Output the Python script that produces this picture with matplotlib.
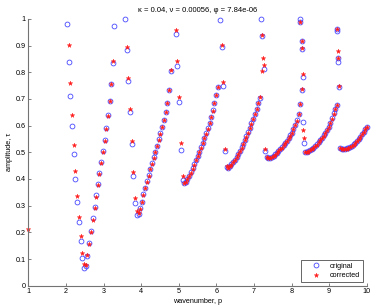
import numpy as np
import matplotlib
matplotlib.use('Agg')
import matplotlib.pyplot as plt

nan = np.nan

# wavenumber p, one entry per plotted sample (original and corrected share it)
wavenumber = [
    1.00,
    2.02, 2.07, 2.12, 2.16, 2.21, 2.25, 2.30, 2.35, 2.39, 2.44, 2.48, 2.53,
    2.57, 2.62, 2.66, 2.71, 2.76, 2.80, 2.85, 2.89, 2.94, 2.98,
    3.03, 3.07, 3.11, 3.16, 3.20, 3.25, 3.29,
    3.57, 3.62, 3.66, 3.71, 3.75, 3.79, 3.84, 3.89, 3.93,
    3.97, 4.02, 4.06, 4.11, 4.15, 4.20, 4.24, 4.29, 4.33, 4.38,
    4.42, 4.47, 4.51, 4.56, 4.60, 4.65, 4.69, 4.74, 4.79,
    4.92, 4.96, 5.01, 5.05, 5.10, 5.14,
    5.19, 5.23, 5.28, 5.32, 5.37, 5.41, 5.46, 5.50, 5.55, 5.59,
    5.64, 5.68, 5.73, 5.77, 5.82, 5.86, 5.91, 5.95, 6.00, 6.04,
    6.10, 6.14, 6.19, 6.23,
    6.28, 6.32, 6.36, 6.40, 6.45, 6.49, 6.54, 6.58, 6.63, 6.67,
    6.71, 6.76, 6.80, 6.84, 6.89, 6.93, 6.98, 7.02, 7.07, 7.11, 7.16,
    7.19, 7.22, 7.23, 7.27, 7.22, 7.30,
    7.34, 7.38, 7.43, 7.47, 7.52, 7.56, 7.61, 7.65, 7.70, 7.74,
    7.79, 7.83, 7.88, 7.92, 7.97, 8.01, 8.05, 8.10, 8.14, 8.19, 8.23, 8.27,
    8.23, 8.23, 8.27, 8.27, 8.31, 8.31, 8.32,
    8.36, 8.40, 8.45, 8.49, 8.54, 8.58, 8.63, 8.67, 8.72, 8.76,
    8.81, 8.85, 8.90, 8.94, 8.99, 9.03, 9.08, 9.12, 9.16, 9.20,
    9.20, 9.21, 9.24, 9.24, 9.24, 9.25,
    9.29, 9.33, 9.38, 9.42, 9.47, 9.51, 9.56, 9.60, 9.65, 9.69,
    9.74, 9.78, 9.83, 9.87, 9.92, 9.96, 10.00,
]

tau_original = [
    nan,
    0.980, 0.839, 0.712, 0.598, 0.494, 0.400, 0.314, 0.237, 0.166, 0.105, 0.066, 0.074,
    0.113, 0.160, 0.206, 0.252, 0.296, 0.339, 0.380, 0.424, 0.464, 0.505,
    0.547, 0.590, 0.638, 0.694, 0.755, 0.834, 0.974,
    1.000, 0.883, 0.767, 0.651, 0.531, 0.412, 0.309, 0.265, 0.268,
    0.290, 0.315, 0.342, 0.368, 0.391, 0.415, 0.437, 0.459, 0.481, 0.503,
    0.525, 0.548, 0.571, 0.594, 0.620, 0.650, 0.685, 0.733, 0.805,
    0.943, 0.823, 0.688, 0.509, 0.398, 0.384,
    0.390, 0.400, 0.412, 0.425, 0.440, 0.455, 0.471, 0.487, 0.503, 0.519,
    0.536, 0.553, 0.571, 0.590, 0.610, 0.632, 0.657, 0.685, 0.715, 0.743,
    0.996, 0.894, 0.750, 0.505,
    0.446, 0.443, 0.449, 0.455, 0.463, 0.472, 0.483, 0.494, 0.506, 0.519,
    0.532, 0.546, 0.560, 0.575, 0.591, 0.608, 0.626, 0.645, 0.664, 0.683, 0.705,
    0.999, 0.937, nan, 0.812, nan, 0.504,
    0.484, 0.477, 0.478, 0.482, 0.487, 0.492, 0.498, 0.505, 0.512, 0.519,
    0.527, 0.535, 0.544, 0.553, 0.563, 0.574, 0.587, 0.602, 0.620, 0.645, 0.680, 0.735,
    1.000, 0.990, 0.917, 0.888, 0.783, 0.613, 0.536,
    0.503, 0.502, 0.504, 0.508, 0.513, 0.518, 0.524, 0.530, 0.538, 0.546,
    0.554, 0.563, 0.573, 0.584, 0.596, 0.609, 0.627, 0.646, 0.662, 0.678,
    0.963, 0.953, nan, 0.853, 0.840, 0.746,
    0.518, 0.513, 0.511, 0.512, 0.515, 0.518, 0.521, 0.525, 0.530, 0.536,
    0.543, 0.550, 0.559, 0.568, 0.577, 0.587, 0.596,
]

tau_corrected = [
    0.212,
    nan, 0.903, 0.761, 0.638, 0.527, 0.429, 0.337, 0.257, 0.186, 0.121, 0.080, 0.078,
    0.114, 0.157, 0.203, 0.247, 0.291, 0.334, 0.376, 0.419, 0.460, 0.501,
    0.544, 0.588, 0.636, 0.691, 0.756, 0.844, nan,
    nan, 0.893, 0.777, 0.662, 0.544, 0.425, 0.327, 0.280, 0.274,
    0.289, 0.313, 0.340, 0.366, 0.389, 0.413, 0.436, 0.458, 0.480, 0.502,
    0.524, 0.547, 0.570, 0.593, 0.620, 0.650, 0.686, 0.735, 0.808,
    0.958, 0.841, 0.706, 0.536, 0.411, 0.386,
    0.390, 0.400, 0.411, 0.424, 0.439, 0.454, 0.470, 0.486, 0.502, 0.518,
    0.535, 0.552, 0.570, 0.589, 0.609, 0.631, 0.656, 0.685, 0.716, 0.745,
    nan, 0.901, 0.762, 0.511,
    0.447, 0.443, 0.448, 0.454, 0.462, 0.471, 0.482, 0.493, 0.505, 0.518,
    0.531, 0.545, 0.559, 0.574, 0.590, 0.607, 0.625, 0.644, 0.663, 0.683, 0.707,
    nan, 0.941, 0.853, 0.828, 0.803, 0.511,
    0.484, 0.477, 0.477, 0.481, 0.486, 0.491, 0.497, 0.504, 0.511, 0.518,
    0.526, 0.534, 0.543, 0.552, 0.562, 0.573, 0.586, 0.601, 0.619, 0.645, 0.681, 0.737,
    nan, 0.990, 0.918, 0.890, 0.793, 0.584, 0.553,
    0.503, 0.501, 0.503, 0.507, 0.512, 0.517, 0.523, 0.529, 0.537, 0.545,
    0.553, 0.562, 0.572, 0.583, 0.595, 0.608, 0.626, 0.645, 0.661, 0.679,
    0.963, nan, 0.879, 0.855, nan, 0.748,
    0.518, 0.513, 0.511, 0.512, 0.514, 0.517, 0.520, 0.524, 0.529, 0.535,
    0.542, 0.549, 0.558, 0.567, 0.576, 0.586, 0.595,
]

x_ticks = [1, 2, 3, 4, 5, 6, 7, 8, 9, 10]
y_ticks = [0, 0.1, 0.2, 0.3, 0.4, 0.5, 0.6, 0.7, 0.8, 0.9, 1]
y_ticklabels = ['0', '0.1', '0.2', '0.3', '0.4', '0.5', '0.6', '0.7', '0.8', '0.9', '1']

plt.rcParams['font.family'] = ['Liberation Sans', 'DejaVu Sans']
fs = 5.2

fig = plt.figure(figsize=(3.74, 3.07), dpi=100)
ax = fig.add_axes([0.0757, 0.0694, 0.905, 0.869])

ax.plot(wavenumber, tau_original, 'o', linestyle='none', color='#3a3aff',
        markerfacecolor='none', markersize=3.5, markeredgewidth=0.55,
        label='original', clip_on=False)
ax.plot(wavenumber, tau_corrected, '*', linestyle='none', color='#ff1a1a',
        markersize=3.4, markeredgewidth=0.3,
        label='corrected', clip_on=False)

ax.set_xlim(1, 10)
ax.set_ylim(0, 1)
ax.set_xticks(x_ticks)
ax.set_xticklabels([str(t) for t in x_ticks])
ax.set_yticks(y_ticks)
ax.set_yticklabels(y_ticklabels)
ax.tick_params(direction='in', length=2.5, width=0.5, labelsize=fs, pad=2,
               colors='0.3', labelcolor='black')

for side in ['top', 'right']:
    ax.spines[side].set_visible(False)
for side in ['left', 'bottom']:
    ax.spines[side].set_color('0.45')
    ax.spines[side].set_linewidth(0.8)

ax.set_xlabel('wavenumber, p', fontsize=fs, labelpad=2)
ax.set_ylabel('amplitude, \u03c4', fontsize=fs, labelpad=2)
ax.set_title('\u03ba = 0.04, \u03bd = 0.00056, \u03c6 = 7.84e-06', fontsize=5.5, pad=5)

leg = ax.legend(loc='lower right', fontsize=fs, fancybox=False, framealpha=1,
                edgecolor='0.3', borderaxespad=0.5, labelspacing=0.3,
                handlelength=3.2, handletextpad=0.4, borderpad=0.4)
leg.get_frame().set_linewidth(0.6)

fig.savefig('out.png', dpi=100)
